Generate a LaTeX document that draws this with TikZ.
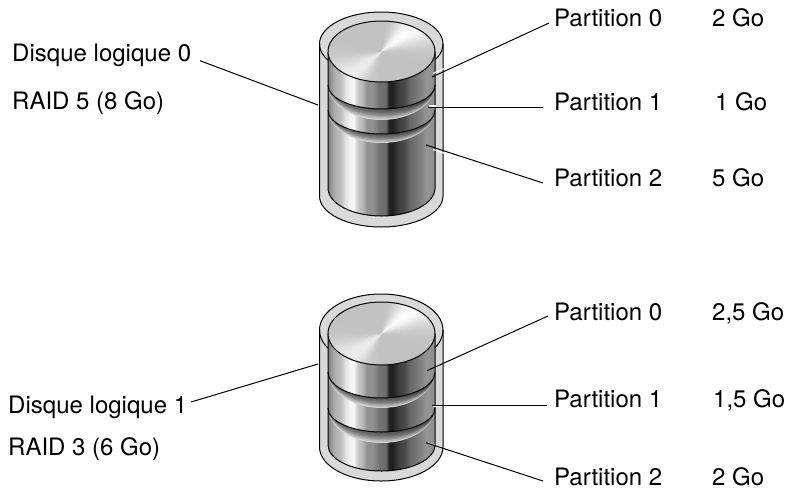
\documentclass[tikz,border=0pt]{standalone}
\usepackage{fontspec}
\setmainfont{TeX Gyre Heros}
\pgfdeclarehorizontalshading{metal}{100bp}{
 color(0bp)=(black!50);
 color(25bp)=(black!50);
 color(28bp)=(black!32);
 color(31bp)=(black!25);
 color(33bp)=(black!12);
 color(35bp)=(black!5);
 color(37bp)=(black!3);
 color(39bp)=(black!22);
 color(41bp)=(black!28);
 color(43bp)=(black!42);
 color(46bp)=(black!44);
 color(49bp)=(black!55);
 color(52bp)=(black!58);
 color(53.5bp)=(black!86);
 color(55bp)=(black!88);
 color(58bp)=(black!76);
 color(61bp)=(black!70);
 color(63bp)=(black!60);
 color(67bp)=(black!52);
 color(71bp)=(black!42);
 color(75bp)=(black!45);
 color(100bp)=(black!45)}
\tikzset{
 wall/.style={draw=black,line width=1pt,fill=black!15},
 outline/.style={draw=black,line width=1pt},
 leader/.style={draw=black,line width=1pt},
 halo/.style={draw=white,line width=1.2pt},
 lbl/.style={anchor=base west,inner sep=0pt,font=\fontsize{24}{28}\selectfont}
}
% top y, edge y, radius: one metal segment
\newcommand{\segbody}[3]{%
 \shade[shading=metal] (328,#1) -- (328,#2) arc[start angle=180,end angle=0,x radius=53.5,y radius=#3] -- (435,#1) -- cycle;
}
\newcommand{\segline}[2]{%
 \draw[outline] (328,#1) arc[start angle=180,end angle=0,x radius=53.5,y radius=#2];
}
% edge y, radius, extra: the groove under a segment
\newcommand{\groove}[3]{%
 \foreach \f/\l/\m/\r in {1/14/22/24,.88/20/30/35,.75/28/45/45,.62/35/60/55,.5/42/70/62,.35/50/76/68,.2/55/80/72}{
  \pgfmathsetmacro{\rr}{#2+#3*\f}
  \shade[left color=black!\l,middle color=black!\m,right color=black!\r] (328,#1) arc[start angle=180,end angle=0,x radius=53.5,y radius=\rr] -- cycle;
 }
}
% centre y, radius: the top disc
\newcommand{\discface}[2]{%
 \begin{scope}
  \clip (381.5,#1) ellipse[x radius=53.5,y radius=#2];
  \fill[black!24] (328,#1-#2) rectangle (435,#1+#2);
  \foreach \a in {0,3,...,357}{
   \pgfmathsetmacro{\c}{abs(cos(\a+38))}
   \pgfmathsetmacro{\s}{cos(\a+38)>0 ? 1 : 0.75}
   \pgfmathsetmacro{\k}{24-23*\s*pow(\c,10)}
   \fill[black!\k] (381.5,#1) -- ++(\a:90) -- ++(\a+90:5.5) -- cycle;
  }
 \end{scope}
 \draw[outline] (381.5,#1) ellipse[x radius=53.5,y radius=#2];
}
\begin{document}
\begin{tikzpicture}[x=1pt,y=-1pt]
\useasboundingbox (0,0) rectangle (787,488);
% ---- upper cylinder
\path[wall] (319.5,44) -- (319.5,196) arc[start angle=180,end angle=0,x radius=61.75,y radius=31] -- (443,44) arc[start angle=0,end angle=-180,x radius=61.75,y radius=32] -- cycle;
\draw[outline] (319.5,44) arc[start angle=180,end angle=0,x radius=61.75,y radius=32];
\segbody{110}{188}{28}
\groove{110}{24}{9}
\segbody{85}{110}{24}
\segline{110}{24}
\groove{85}{24}{11}
\segbody{51.5}{85}{24}
\segline{85}{24}
\draw[outline] (328,51.5) -- (328,188) arc[start angle=180,end angle=0,x radius=53.5,y radius=28] -- (435,51.5);
\discface{51.5}{30.5}
% ---- lower cylinder
\path[wall] (319.5,330) -- (319.5,447) arc[start angle=180,end angle=0,x radius=61.75,y radius=34] -- (443,330) arc[start angle=0,end angle=-180,x radius=61.75,y radius=36] -- cycle;
\draw[outline] (319.5,330) arc[start angle=180,end angle=0,x radius=61.75,y radius=36];
\segbody{408}{445}{26}
\groove{408}{24}{11}
\segbody{372}{408}{24}
\segline{408}{24}
\groove{372}{26}{10}
\segbody{333.5}{372}{26}
\segline{372}{26}
\draw[outline] (328,333.5) -- (328,445) arc[start angle=180,end angle=0,x radius=53.5,y radius=26] -- (435,333.5);
\discface{333.5}{31.5}
% ---- labels
\node[lbl] (d0) at (12,61.7) {Disque logique 0};
\node[lbl] (r5) at (12,109) {RAID 5 (8 Go)};
\node[lbl] (a0) at (554,26) {Partition 0};
\node[lbl] (a0s) at (712,26) {2 Go};
\node[lbl] (a1) at (554,110.7) {Partition 1};
\node[lbl] (a1s) at (715,110.7) {1 Go};
\node[lbl] (a2) at (554,186) {Partition 2};
\node[lbl] (a2s) at (712,186) {5 Go};
\node[lbl] (d1) at (8,413) {Disque logique 1};
\node[lbl] (r3) at (8,455) {RAID 3 (6 Go)};
\node[lbl] (b0) at (554,320.7) {Partition 0};
\node[lbl] (b0s) at (712,320.7) {2,5 Go};
\node[lbl] (b1) at (554,407.7) {Partition 1};
\node[lbl] (b1s) at (713,407.7) {1,5 Go};
\node[lbl] (b2) at (554,485) {Partition 2};
\node[lbl] (b2s) at (712,485) {2 Go};
% ---- connector ends
\coordinate (d0s) at (200,60.7);
\coordinate (d0e) at (318,105);
\coordinate (a0a) at (549,23);
\coordinate (a0e) at (432,77);
\coordinate (a1a) at (543,107);
\coordinate (a1e) at (428,107);
\coordinate (a2a) at (543,183);
\coordinate (a2e) at (426,145);
\coordinate (d1s) at (191,402);
\coordinate (d1e) at (318,364);
\coordinate (b0a) at (548,316);
\coordinate (b0e) at (427,370.7);
\coordinate (b1a) at (547,405);
\coordinate (b1e) at (432,405);
\coordinate (b2a) at (543,481);
\coordinate (b2e) at (426,442.7);
% ---- halos on the disks
\draw[halo] (433,73.5) -- (444,68.5);
\draw[halo] (429,106) -- (436,106);
\draw[halo] (433,149.5) -- (445,153.5);
\draw[halo] (433,406) -- (442,406);
\draw[halo] (428,443) -- (436,445.5);
% ---- connectors
\draw[leader] (d0s) -- (d0e);
\draw[leader] (a0a) -- (a0e);
\draw[leader] (a1a) -- (a1e);
\draw[leader] (a2a) -- (a2e);
\draw[leader] (d1s) -- (d1e);
\draw[leader] (b0a) -- (b0e);
\draw[leader] (b1a) -- (b1e);
\draw[leader] (b2a) -- (b2e);
\end{tikzpicture}
\end{document}
